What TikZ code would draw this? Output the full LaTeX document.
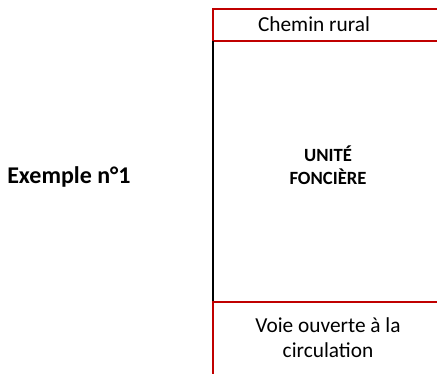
\documentclass[tikz,border=0pt]{standalone}
\usepackage{fontspec}
\setmainfont{Carlito}
\definecolor{rougevoie}{RGB}{192,0,0}
\tikzset{
  limite/.style={draw=rougevoie,line width=2.2pt*0.75},
  parcelle/.style={draw=black,line width=1.6pt*0.75},
  libelle/.style={inner sep=0pt,align=center,font=\fontsize{16}{19}\selectfont},
  titre/.style={inner sep=0pt,font=\bfseries\fontsize{18}{21}\selectfont},
  unite/.style={inner sep=0pt,align=center,font=\bfseries\fontsize{14}{17.3}\selectfont}
}
\begin{document}
\begin{tikzpicture}[x=0.75pt,y=-0.75pt]
      \useasboundingbox (0,0) rectangle (437,374);
      % chemin rural
      \draw[limite] (437,9) -- (213,9) -- (213,41) -- (437,41);
      % limite de l'unite fonciere
      \draw[parcelle] (213,41) -- (213,302);
      % voie ouverte a la circulation
      \draw[limite] (437,302) -- (213,302) -- (213,374);
      \node[libelle] (chemin) at (314,24) {Chemin rural};
      \node[unite] (uf) at (328,165) {UNITÉ\\FONCIÈRE};
      \node[libelle] (voie) at (328,338) {Voie ouverte à la\\circulation};
      \node[titre,anchor=west] (exemple) at (7,177) {Exemple n°1};
    \end{tikzpicture}
\end{document}
